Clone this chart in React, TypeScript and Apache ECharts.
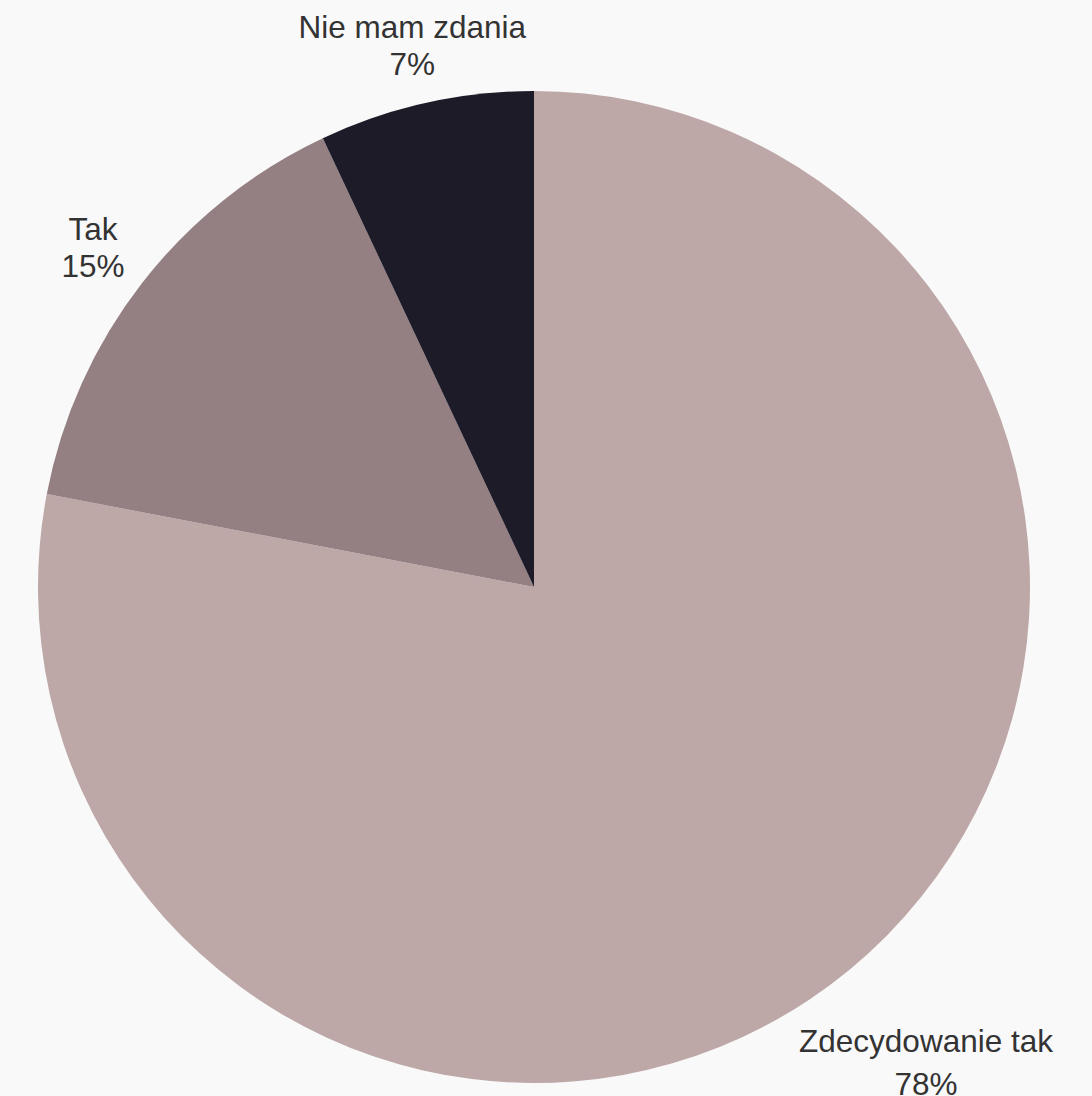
import React, { useEffect, useRef } from "react";
import * as echarts from "echarts";

const categories = ["Zdecydowanie tak", "Tak", "Nie mam zdania"];
const values = [78, 15, 7];
const colors = ["#bda7a7", "#947f82", "#1e1b29"];

export default function App() {
  const ref = useRef<HTMLDivElement>(null);
  useEffect(() => {
    document.body.style.margin = "0";
    if (!ref.current) return;
    const chart = echarts.init(ref.current, null, { renderer: "svg" });
    const center = [534, 587];
    const radius = 496;
    const labelOffsets = [119, 62, 62];
    const labelShiftY = [2, 3, 3];
    const labelLineHeights = [43, 37, 37];
    chart.setOption({
      animation: false,
      backgroundColor: "#f9f9f9",
      series: [
        {
          type: "pie",
          center: center,
          radius: radius,
          startAngle: 90,
          clockwise: true,
          avoidLabelOverlap: false,
          data: categories.map((c, i) => ({
            name: c,
            value: values[i],
            itemStyle: { color: colors[i] },
            label: { lineHeight: labelLineHeights[i] },
          })),
          label: {
            show: true,
            position: "outside",
            formatter: "{b}\n{d}%",
            fontFamily: "Liberation Sans, Arial, sans-serif",
            fontSize: 31.5,
            lineHeight: 37,
            color: "#333333",
            align: "center",
          },
          labelLine: {
            show: true,
            length: 20,
            length2: 0,
            lineStyle: { opacity: 0, width: 0 },
          },
          labelLayout: (p: any) => {
            const pts = p.labelLinePoints;
            if (!pts) return {};
            const dx = pts[0][0] - center[0];
            const dy = pts[0][1] - center[1];
            const d = Math.sqrt(dx * dx + dy * dy) || 1;
            const r = radius + labelOffsets[p.dataIndex];
            return {
              x: center[0] + (dx / d) * r,
              y: center[1] + (dy / d) * r + labelShiftY[p.dataIndex],
              align: "center",
              verticalAlign: "middle",
            };
          },
          itemStyle: { borderWidth: 0 },
          emphasis: { disabled: true },
        },
      ],
    });
    return () => chart.dispose();
  }, []);
  return <div ref={ref} style={{ width: 1092, height: 1096 }} />;
}
